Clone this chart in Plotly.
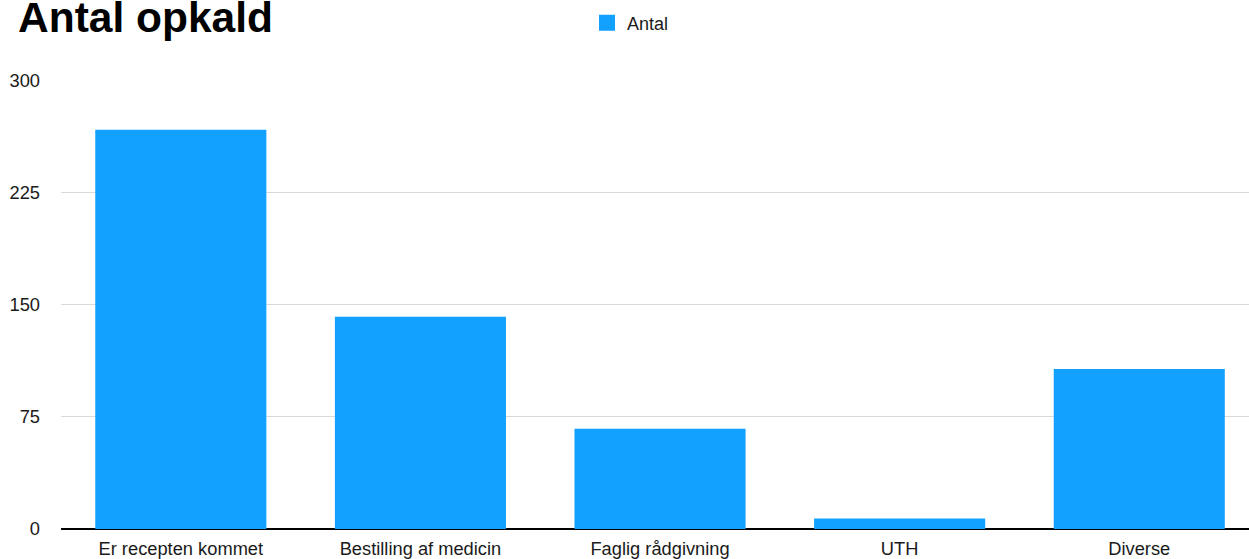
import plotly.graph_objects as go

categories = ["Er recepten kommet", "Bestilling af medicin", "Faglig rådgivning", "UTH", "Diverse"]
values = [267, 142, 67, 7, 107]
series_name = "Antal"
title_text = "Antal opkald"
y_ticks = [0, 75, 150, 225, 300]

BAR_COLOR = "#12A1FF"
FONT = "Liberation Sans, Arial, Helvetica, sans-serif"

W, H = 1249, 559
ML, MR, MT, MB = 61, 0, 80, 30
plot_h = H - MT - MB

def py(p):
    return (H - MB - p) / plot_h

fig = go.Figure()
fig.add_trace(go.Bar(
    x=categories, y=values, name=series_name,
    marker=dict(color=BAR_COLOR, line=dict(width=0)),
    showlegend=False,
))
fig.add_trace(go.Scatter(
    x=[None], y=[None], mode="markers", name=series_name,
    marker=dict(symbol="square", size=17, color=BAR_COLOR),
    showlegend=True,
))

fig.update_layout(
    width=W, height=H,
    margin=dict(l=ML, r=MR, t=MT, b=MB, pad=0),
    paper_bgcolor="white", plot_bgcolor="white",
    bargap=0.286,
    font=dict(family=FONT, size=18, color="#1a1a1a"),
    legend=dict(
        orientation="h", xref="container", yref="container",
        x=587 / W, xanchor="left", y=1 - 23 / H, yanchor="middle",
        font=dict(size=18, color="#1a1a1a"),
        bgcolor="rgba(0,0,0,0)", borderwidth=0,
    ),
    annotations=[dict(
        text="<b>" + title_text + "</b>", xref="paper", yref="paper",
        x=(16 - ML) / (W - ML - MR), xanchor="left",
        y=py(17), yanchor="middle", showarrow=False,
        font=dict(family=FONT, size=42.5, color="#000"),
    )],
)
fig.update_xaxes(
    range=[-0.5, 4.458], showgrid=False, zeroline=False,
    showline=False, ticks="", ticklabelstandoff=7,
    tickfont=dict(size=18.3, color="#1a1a1a"),
)
fig.update_yaxes(
    range=[0, 300.3], tickvals=y_ticks, ticktext=[str(v) for v in y_ticks],
    showgrid=True, gridcolor="#d9d9d9", gridwidth=1,
    zeroline=True, zerolinecolor="#000", zerolinewidth=2,
    showline=False, ticks="", ticklabelstandoff=20,
    tickfont=dict(size=18.3, color="#1a1a1a"),
)

fig.write_html("out.html")
